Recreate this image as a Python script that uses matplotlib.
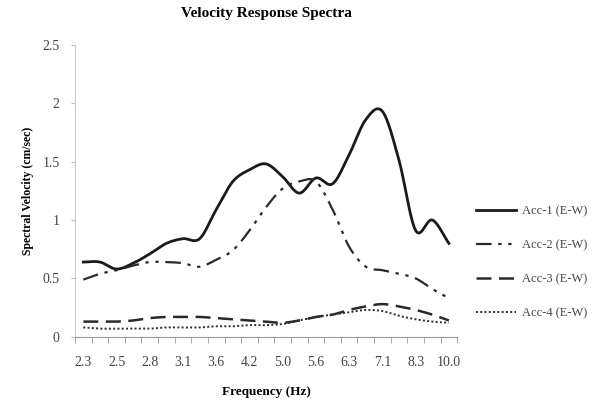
import numpy as np
import matplotlib
matplotlib.use("Agg")
import matplotlib.pyplot as plt

# --- Data ---
freqs = ["2.3", "2.4", "2.5", "2.6", "2.8", "2.9", "3.1", "3.3", "3.6", "3.8", "4.2", "4.5",
         "5.0", "5.3", "5.6", "5.9", "6.3", "6.7", "7.1", "7.7", "8.3", "9.1", "10.0"]
acc1 = [0.64, 0.64, 0.58, 0.63, 0.71, 0.80, 0.84, 0.84, 1.09, 1.33, 1.43, 1.48,
        1.37, 1.23, 1.36, 1.31, 1.56, 1.86, 1.93, 1.51, 0.91, 1.00, 0.80]
acc2 = [0.49, 0.54, 0.57, 0.61, 0.64, 0.64, 0.63, 0.60, 0.66, 0.74, 0.91, 1.11,
        1.27, 1.33, 1.33, 1.09, 0.77, 0.60, 0.57, 0.54, 0.50, 0.41, 0.33]
acc3 = [0.13, 0.13, 0.13, 0.14, 0.16, 0.17, 0.17, 0.17, 0.16, 0.15, 0.14, 0.13,
        0.12, 0.14, 0.17, 0.19, 0.23, 0.26, 0.28, 0.26, 0.23, 0.19, 0.14]
acc4 = [0.08, 0.07, 0.07, 0.07, 0.07, 0.08, 0.08, 0.08, 0.09, 0.09, 0.10, 0.10,
        0.11, 0.14, 0.17, 0.19, 0.21, 0.23, 0.22, 0.18, 0.15, 0.13, 0.12]
labels = ["Acc-1 (E-W)", "Acc-2 (E-W)", "Acc-3 (E-W)", "Acc-4 (E-W)"]


def smooth(y, n=12):
    # Catmull-Rom curve through the points, like a spreadsheet "smoothed line"
    y = np.asarray(y, dtype=float)
    x = np.arange(len(y), dtype=float)
    px = np.concatenate([[2 * x[0] - x[1]], x, [2 * x[-1] - x[-2]]])
    py = np.concatenate([[2 * y[0] - y[1]], y, [2 * y[-1] - y[-2]]])
    xs, ys = [], []
    t = np.linspace(0, 1, n, endpoint=False)
    for i in range(1, len(px) - 2):
        for p, out in ((px, xs), (py, ys)):
            p0, p1, p2, p3 = p[i - 1], p[i], p[i + 1], p[i + 2]
            out.extend(0.5 * (2 * p1 + (-p0 + p2) * t + (2 * p0 - 5 * p1 + 4 * p2 - p3) * t ** 2
                              + (-p0 + 3 * p1 - 3 * p2 + p3) * t ** 3))
    xs.append(x[-1])
    ys.append(y[-1])
    return np.array(xs), np.array(ys)


plt.rcParams['font.family'] = ['Liberation Serif', 'DejaVu Serif']

fig = plt.figure(figsize=(6, 4), dpi=100)
ax = fig.add_axes([0.125, 0.158, 0.637, 0.73])

styles = [
    dict(color="#1a1a1a", lw=2.0, ls="-"),
    dict(color="#2a2a2a", lw=1.6, ls=(0, (7, 3, 1.5, 3, 1.5, 3))),
    dict(color="#2a2a2a", lw=1.8, ls=(0, (6, 3))),
    dict(color="#2a2a2a", lw=1.4, ls=(0, (1, 1.2))),
]
for series, lab, st in zip([acc1, acc2, acc3, acc4], labels, styles):
    sx, sy = smooth(series)
    ax.plot(sx, sy, label=lab, **st)

ax.set_xlim(-0.5, len(freqs) - 0.5)
ax.set_ylim(0, 2.5)
ax.set_xticks(np.arange(0, len(freqs), 2))
ax.set_xticklabels(freqs[::2], fontsize=10, color="#444444")
ax.set_xticks(np.arange(-0.5, len(freqs), 1), minor=True)
ax.tick_params(axis="x", which="major", length=0, pad=14)
ax.tick_params(axis="x", which="minor", length=4, color="#999999")
ax.set_yticks([0, 0.5, 1, 1.5, 2, 2.5])
ax.set_yticklabels(["0", "0.5", "1", "1.5", "2", "2.5"], fontsize=10, color="#444444")
ax.tick_params(axis="y", length=3, color="#bbbbbb", pad=8)

for s in ["top", "right"]:
    ax.spines[s].set_visible(False)
ax.spines["left"].set_color("#cccccc")
ax.spines["bottom"].set_color("#999999")

ax.set_title("Velocity Response Spectra", fontsize=11, fontweight="bold", pad=20)
ax.set_xlabel("Frequency (Hz)", fontsize=9.5, fontweight="bold", labelpad=12)
ax.set_ylabel("Spectral Velocity (cm/sec)", fontsize=8.5, fontweight="bold", labelpad=6)

fig.legend(loc="upper left", bbox_to_anchor=(0.775, 0.515), frameon=False,
           fontsize=9, handlelength=3.2, handletextpad=0.5, labelspacing=1.75,
           labelcolor="#444444")

fig.savefig("out.png", dpi=100)
